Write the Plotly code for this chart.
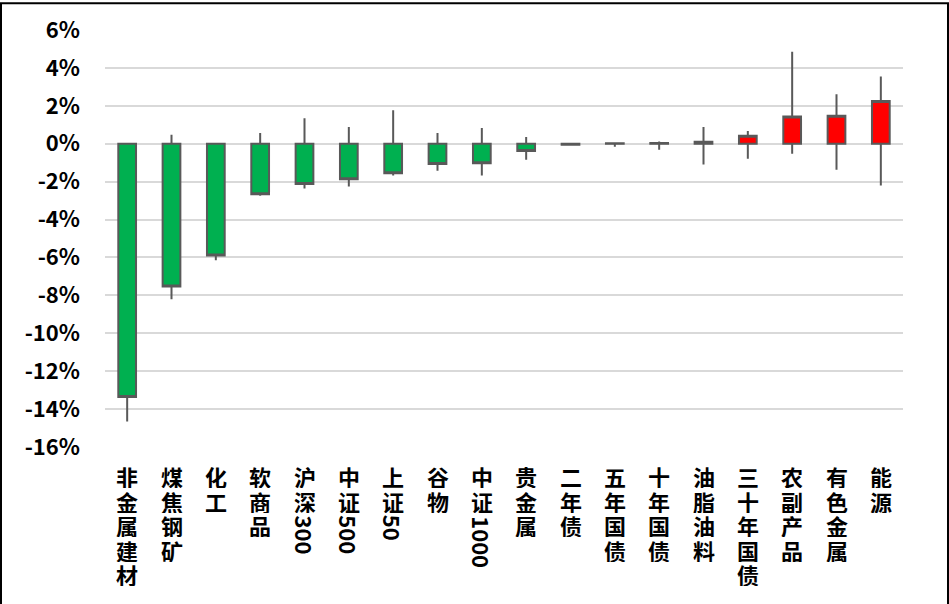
import plotly.graph_objects as go

categories = ["非金属建材", "煤焦钢矿", "化工", "软商品", "沪深300", "中证500", "上证50", "谷物", "中证1000",
              "贵金属", "二年债", "五年国债", "十年国债", "油脂油料", "三十年国债", "农副产品", "有色金属", "能源"]
open_vals = [0.0] * 18
close_vals = [-13.36, -7.53, -5.90, -2.66, -2.12, -1.87, -1.56, -1.07, -1.03,
              -0.38, -0.05, 0.03, 0.04, 0.10, 0.42, 1.44, 1.47, 2.26]
high_vals = [0.0, 0.47, 0.0, 0.56, 1.35, 0.88, 1.77, 0.56, 0.83,
             0.35, 0.0, 0.05, 0.12, 0.88, 0.67, 4.85, 2.61, 3.55]
low_vals = [-14.66, -8.20, -6.15, -2.75, -2.36, -2.26, -1.68, -1.42, -1.68,
            -0.84, -0.06, -0.16, -0.32, -1.10, -0.79, -0.53, -1.37, -2.21]
y_ticks = list(range(-16, 7, 2))

W, H = 949, 604
ML, MR, MT, MB = 105, 46, 28, 157
FONT = "Noto Sans CJK SC"

fig = go.Figure()
fig.add_trace(go.Candlestick(
    x=categories, open=open_vals, high=high_vals, low=low_vals, close=close_vals,
    increasing=dict(fillcolor="#FF0000", line=dict(color="#595959", width=2)),
    decreasing=dict(fillcolor="#00B050", line=dict(color="#595959", width=2)),
    whiskerwidth=0, showlegend=False, hoverinfo="skip",
))

# vertical (stacked) category labels: CJK chars stacked, digit runs rotated
CH = 24.5
for cat in categories:
    segs = []
    buf = ""
    for ch in cat:
        if ch.isdigit():
            buf += ch
        else:
            if buf:
                segs.append(("num", buf)); buf = ""
            segs.append(("cjk", ch))
    if buf:
        segs.append(("num", buf))
    pos = 17.0  # distance below plot bottom of top of first char
    for kind, s in segs:
        if kind == "cjk":
            fig.add_annotation(x=cat, y=0, xref="x", yref="paper", text="<b>%s</b>" % s,
                               showarrow=False, xanchor="center", yanchor="middle",
                               height=24, borderpad=0,
                               yshift=-(pos + CH / 2), font=dict(family=FONT, size=22, color="black"))
            pos += CH
        else:
            ext = len(s) * 14.0 + 2
            fig.add_annotation(x=cat, y=0, xref="x", yref="paper", text="<b>%s</b>" % s,
                               showarrow=False, xanchor="center", yanchor="middle", textangle=90,
                               height=22, borderpad=0,
                               yshift=-(pos + ext / 2), font=dict(family=FONT, size=22, color="black"))
            pos += ext

pw = W - ML - MR
ph = H - MT - MB
fig.add_shape(type="rect", xref="paper", yref="paper",
              x0=(1 - ML) / pw, x1=(W - 1 - ML) / pw,
              y0=(MB - H + 1) / ph, y1=(H - MB - 1) / ph,
              line=dict(color="black", width=2), fillcolor="rgba(0,0,0,0)", layer="above")

fig.update_layout(
    width=W, height=H, margin=dict(l=ML, r=MR, t=MT, b=MB),
    paper_bgcolor="white", plot_bgcolor="white",
    boxgap=0.6, boxgroupgap=0,
    font=dict(family=FONT, size=22, color="black"),
)
fig.update_xaxes(type="category", showticklabels=False, showgrid=False, zeroline=False,
                 showline=False, rangeslider=dict(visible=False), range=[-0.5, 17.5])
fig.update_yaxes(range=[-16, 6], tickvals=y_ticks, ticktext=["<b>%d%%</b>" % v for v in y_ticks],
                 showgrid=True, gridcolor="#D9D9D9", gridwidth=2, zeroline=False, showline=False,
                 ticks="", ticklabelstandoff=24, tickfont=dict(family=FONT, size=22, color="black"))

fig.write_html("out.html", config={"displayModeBar": False},
               post_script="document.body.style.margin='0';document.body.style.overflow='hidden';")
